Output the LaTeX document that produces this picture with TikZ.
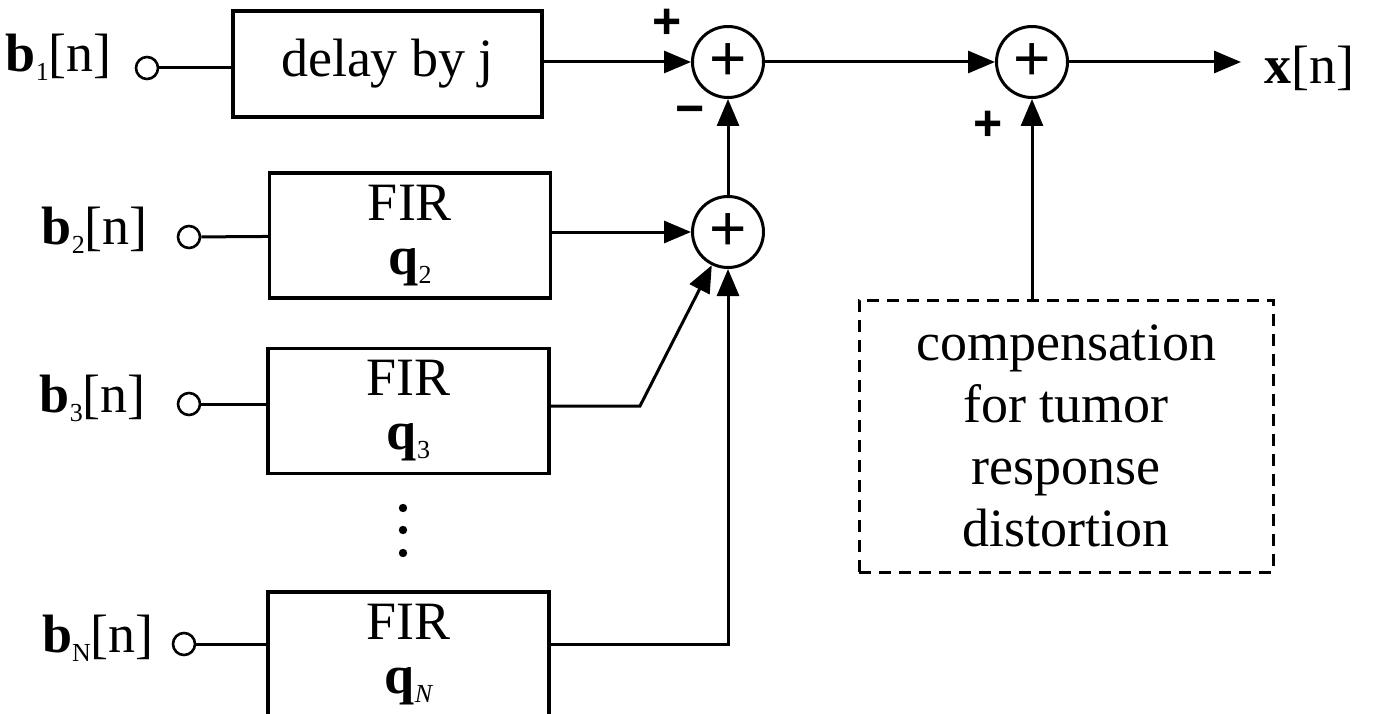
\documentclass[tikz,border=0pt]{standalone}
\usepackage{fontspec}
\setmainfont{Liberation Serif}
\newfontfamily\plusfont{Liberation Sans}
\usetikzlibrary{arrows.meta}
\newcommand{\sbs}[1]{\raisebox{-9pt}{\fontsize{26}{26}\selectfont #1}}
\begin{document}
\begin{tikzpicture}[x=1pt,y=-1pt,
  every node/.style={font=\fontsize{54}{62}\selectfont},
  blk/.style={draw,line width=3.4pt,align=center,inner sep=0pt,minimum width=281pt,minimum height=125pt},
  sumc/.style={draw,circle,line width=3pt,minimum size=71pt,inner sep=0pt,font=\plusfont\fontsize{64}{64}\selectfont},
  term/.style={draw,circle,line width=2.6pt,minimum size=22pt,inner sep=0pt},
  sgn/.style={font=\plusfont\bfseries\fontsize{50}{50}\selectfont,inner sep=0pt},
  wire/.style={line width=3pt},
  arr/.style={line width=3pt,-{Triangle[length=27pt,width=22pt]}},
  dashbox/.style={draw,line width=3pt,dash pattern=on 12pt off 8pt,align=center,minimum width=414pt,minimum height=272pt,inner sep=0pt}]
\useasboundingbox (0,0) rectangle (1373,714);
\clip (0,0) rectangle (1373,714);
% inputs
\node[anchor=base east,inner sep=0pt] (l1) at (112,72) {\textbf{b}\sbs{1}[n]};
\node[anchor=base east,inner sep=0pt] (l2) at (148,244) {\textbf{b}\sbs{2}[n]};
\node[anchor=base east,inner sep=0pt] (l3) at (146,412) {\textbf{b}\sbs{3}[n]};
\node[anchor=base east,inner sep=0pt] (lN) at (154,652) {\textbf{b}\sbs{N}[n]};
\node[term] (t1) at (147,68) {};
\node[term] (t2) at (189,237) {};
\node[term] (t3) at (189,404) {};
\node[term] (tN) at (184,644) {};
% blocks
\node[blk,minimum width=309pt,minimum height=106pt] (d1) at (387.5,64) {delay by j};
\node[blk] (f2) at (410,235.5) {FIR\\[-8pt]\textbf{q}\sbs{2}};
\node[blk] (f3) at (408.5,411) {FIR\\[-8pt]\textbf{q}\sbs{3}};
\node[blk] (fN) at (408.5,654.5) {FIR\\[-8pt]\textbf{q}\sbs{\itshape N}};
\fill (403,508) circle (4.2pt) (403,530) circle (4.2pt) (403,553) circle (4.2pt);
% sums
\node[sumc] (s1) at (728,62) {+};
\node[sumc] (s2) at (728,232) {+};
\node[sumc] (s3) at (1032,62) {+};
\node[dashbox] (cmp) at (1066,436) {compensation\\for tumor\\response\\distortion};
\coordinate (out) at (1241,62);
\node[anchor=base west,inner sep=0pt] (xo) at (1264,84) {\textbf{x}[n]};
% signs
\node[sgn] (p1) at (667,24) {+};
\node[sgn] (m1) at (690,116) {\textminus};
\node[sgn] (p3) at (988,126) {+};
% wires
\draw[wire] (t1) -- (t1 -| d1.west);
\draw[wire] (t2) -- (f2);
\draw[wire] (t3) -- (t3 -| f3.west);
\draw[wire] (tN) -- (tN -| fN.west);
\draw[arr] (d1.east |- s1) -- (s1);
\draw[arr] (f2.east |- s2) -- (s2);
\draw[arr] (s2) -- (s1);
\draw[arr] (s1) -- (s3);
\draw[arr] (s3) -- (out);
\draw[arr] (cmp.north -| s3) -- (s3);
\draw[arr] (f3.east |- 0,406) -- (640,406) -- (s2.-116);
\draw[arr] (tN -| fN.east) -| (s2.south);
\end{tikzpicture}
\end{document}
